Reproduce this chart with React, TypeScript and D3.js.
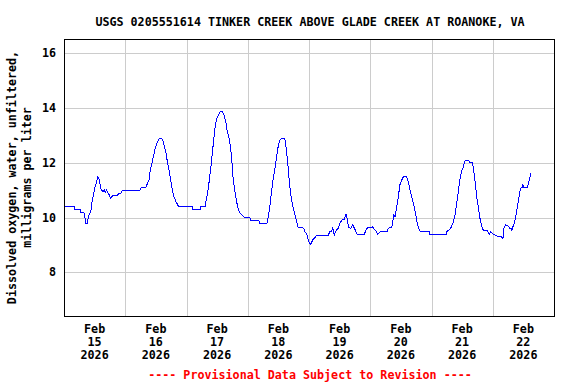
import * as d3 from "d3";

const WIDTH = 576;
const HEIGHT = 384;
const MARGIN = { top: 39, right: 22, bottom: 68, left: 64 };

const TITLE = "USGS 0205551614 TINKER CREEK ABOVE GLADE CREEK AT ROANOKE, VA";
const Y_LABEL = ["Dissolved oxygen, water, unfiltered,", "milligrams per liter"];
const FOOTNOTE = "---- Provisional Data Subject to Revision ----";

const START = new Date(2026, 1, 15, 0, 0);
const END = new Date(2026, 1, 23, 0, 0);

const dayLabels = ["15", "16", "17", "18", "19", "20", "21", "22"];
const yTicks = [8, 10, 12, 14, 16];

// hours after Feb 15 00:00
const obsHours = [
  0, 4.0, 4.1, 6.5, 6.6, 7.8, 8.6, 9.2, 9.5, 10.5, 10.9, 11.5, 12.2, 12.8, 13.3,
  13.9, 14.4, 15.2, 15.8, 16.2, 16.7, 17.8, 18.3, 19.0, 21.0, 21.3, 22.3, 22.9,
  29.8, 30.2, 32.0, 32.7, 33.3, 33.7, 34.6, 35.3, 35.9, 36.6, 37.4, 38.3, 38.9,
  40.0, 40.6, 41.3, 41.9, 42.5, 43.1, 43.9, 44.8, 50.2, 50.3, 53.4, 53.5, 55.4,
  55.5, 56.0, 56.7, 57.5, 58.1, 58.8, 59.3, 59.9, 60.6, 61.3, 62.1, 62.7, 63.4,
  64.0, 64.6, 65.3, 65.8, 66.2, 66.9, 67.5, 68.2, 68.8, 69.7, 70.5, 72.7, 73.1,
  76.3, 76.7, 79.5, 79.9, 80.6, 81.3, 81.9, 82.6, 83.2, 83.9, 84.5, 85.2, 86.5,
  87.1, 87.8, 88.4, 89.1, 89.7, 90.4, 91.0, 91.7, 92.0, 93.5, 94.0, 94.4, 95.1,
  95.5, 96.1, 96.8, 97.4, 98.1, 99.0, 103.7, 104.0, 104.8, 105.3, 105.9, 106.6,
  107.5, 108.1, 108.9, 109.8, 110.5, 111.1, 111.5, 112.4, 113.1, 113.8, 114.8,
  117.7, 118.3, 119.0, 120.6, 121.0, 121.6, 122.2, 122.9, 123.8, 126.8, 127.0,
  128.5, 129.2, 129.7, 130.4, 131.0, 131.6, 132.3, 133.0, 134.3, 134.9, 135.6,
  136.2, 136.9, 137.5, 138.3, 138.9, 139.6, 143.3, 143.4, 149.9, 150.0, 151.5,
  152.4, 153.1, 153.8, 154.4, 155.0, 155.7, 156.5, 157.1, 158.7, 158.8, 160.0,
  160.5, 161.1, 161.7, 162.4, 163.0, 163.7, 164.4, 165.9, 166.6, 167.2, 168.1,
  169.8, 171.1, 171.5, 172.0, 172.4, 173.1, 174.0, 174.6, 175.3, 175.4, 175.7,
  176.4, 177.0, 177.7, 178.3, 178.9, 179.6, 179.8, 180.2, 181.6, 182.0, 182.5,
  182.9,
];

const obsValues = [
  10.41, 10.41, 10.31, 10.31, 10.19, 10.19, 9.79, 9.79, 10.03, 10.21, 10.52,
  10.82, 11.13, 11.31, 11.49, 11.37, 11.07, 10.94, 11.0, 10.92, 11.0, 10.82,
  10.7, 10.8, 10.8, 10.88, 10.88, 11.0, 11.0, 11.1, 11.1, 11.25, 11.37, 11.67,
  12.04, 12.35, 12.59, 12.77, 12.89, 12.89, 12.77, 12.35, 11.98, 11.67, 11.31,
  11.0, 10.76, 10.58, 10.42, 10.41, 10.31, 10.31, 10.4, 10.4, 10.52, 10.76,
  11.19, 11.8, 12.35, 12.95, 13.38, 13.62, 13.78, 13.87, 13.87, 13.75, 13.5,
  13.14, 12.95, 12.53, 12.04, 11.49, 11.0, 10.64, 10.34, 10.18, 10.09, 10.02,
  10.02, 9.91, 9.91, 9.79, 9.79, 9.97, 10.34, 10.94, 11.37, 11.74, 12.16, 12.59,
  12.83, 12.89, 12.89, 12.53, 11.86, 11.19, 10.7, 10.4, 10.15, 9.91, 9.66, 9.63,
  9.63, 9.58, 9.48, 9.42, 9.24, 9.08, 9.02, 9.18, 9.24, 9.36, 9.36, 9.48, 9.48,
  9.61, 9.36, 9.52, 9.61, 9.79, 9.91, 9.94, 10.12, 9.91, 9.63, 9.61, 9.73, 9.61,
  9.39, 9.39, 9.54, 9.63, 9.63, 9.66, 9.57, 9.51, 9.39, 9.48, 9.48, 9.61, 9.66,
  10.09, 10.03, 10.4, 10.76, 11.19, 11.37, 11.49, 11.49, 11.31, 11.0, 10.76,
  10.52, 10.27, 9.85, 9.63, 9.48, 9.48, 9.39, 9.39, 9.48, 9.61, 9.79, 10.03,
  10.46, 10.88, 11.31, 11.67, 11.86, 12.07, 12.07, 12.03, 12.03, 11.74, 11.31,
  10.76, 10.34, 9.97, 9.69, 9.51, 9.51, 9.39, 9.48, 9.39, 9.32, 9.32, 9.27, 9.24,
  9.61, 9.73, 9.7, 9.61, 9.61, 9.51, 9.61, 9.79, 10.03, 10.4, 10.76, 11.07, 11.1,
  11.21, 11.1, 11.1, 11.25, 11.43, 11.64,
];

const FONT = "'DejaVu Sans Mono', monospace";
const FS = 11.7;

export default function App() {
  const left = MARGIN.left;
  const right = WIDTH - MARGIN.right;
  const top = MARGIN.top;
  const bottom = HEIGHT - MARGIN.bottom;

  const x = d3.scaleTime().domain([START, END]).range([left, right]);
  const y = d3.scaleLinear().domain([6.4, 16.53]).range([bottom, top]);

  const data = obsHours.map((h, i) => ({
    t: d3.timeMinute.offset(START, Math.round(h * 60)),
    v: obsValues[i],
  }));

  const line = d3
    .line<{ t: Date; v: number }>()
    .x((d) => x(d.t))
    .y((d) => y(d.v));

  const midnights = d3.timeDay.range(d3.timeDay.offset(START, 1), END);
  const noons = dayLabels.map((_, i) => d3.timeHour.offset(START, 12 + i * 24));
  const px = (v: number) => Math.round(v) + 0.5;
  const midY = (top + bottom) / 2;
  const midX = (left + right) / 2;

  return (
    <div style={{ position: "absolute", left: 0, top: 0 }}>
      <svg width={WIDTH} height={HEIGHT} style={{ display: "block", background: "#fff" }}>
        <text
          x={midX + 1}
          y={26}
          textAnchor="middle"
          fontFamily={FONT}
          fontWeight="bold"
          fontSize={FS}
        >
          {TITLE}
        </text>

        {/* grid */}
        {midnights.map((d, i) => (
          <line
            key={"gx" + i}
            x1={px(x(d))}
            x2={px(x(d))}
            y1={top}
            y2={bottom}
            stroke="#cccccc"
            strokeWidth={1}
          />
        ))}
        {yTicks.map((t) => (
          <line
            key={"gy" + t}
            x1={left}
            x2={right}
            y1={px(y(t))}
            y2={px(y(t))}
            stroke="#cccccc"
            strokeWidth={1}
          />
        ))}

        <path
          d={line(data) || ""}
          fill="none"
          stroke="#0000ff"
          strokeWidth={1}
          shapeRendering="crispEdges"
        />

        <rect
          x={left + 0.5}
          y={top + 0.5}
          width={right - left}
          height={bottom - top}
          fill="none"
          stroke="#000"
          strokeWidth={1}
        />

        {/* y tick labels */}
        {yTicks.map((t) => (
          <text
            key={"yl" + t}
            x={left - 8}
            y={y(t) + 4}
            textAnchor="end"
            fontFamily={FONT}
            fontWeight="bold"
            fontSize={FS}
          >
            {t}
          </text>
        ))}

        {/* y axis title */}
        {Y_LABEL.map((s, i) => (
          <text
            key={"yt" + i}
            transform={`translate(${16 + i * 15},${midY}) rotate(-90)`}
            textAnchor="middle"
            fontFamily={FONT}
            fontWeight="bold"
            fontSize={FS}
          >
            {s}
          </text>
        ))}

        {/* x labels */}
        {noons.map((d, i) => (
          <text
            key={"xl" + i}
            x={x(d)}
            textAnchor="middle"
            fontFamily={FONT}
            fontWeight="bold"
            fontSize={FS}
          >
            <tspan x={x(d)} y={bottom + 17}>Feb</tspan>
            <tspan x={x(d)} y={bottom + 30}>{dayLabels[i]}</tspan>
            <tspan x={x(d)} y={bottom + 43}>2026</tspan>
          </text>
        ))}

        <text
          x={midX + 1}
          y={bottom + 63}
          textAnchor="middle"
          fontFamily={FONT}
          fontWeight="bold"
          fontSize={FS}
          fill="#ff0000"
        >
          {FOOTNOTE}
        </text>
      </svg>
    </div>
  );
}
